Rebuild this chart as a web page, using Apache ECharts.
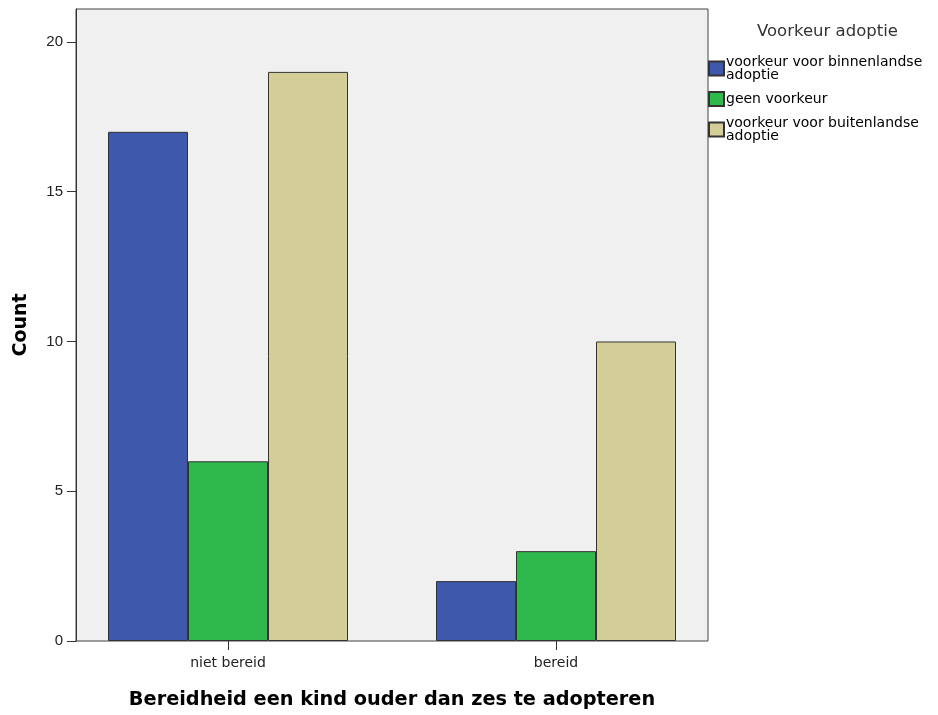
<!DOCTYPE html>
<html><head><meta charset="utf-8">
<script src="https://cdn.jsdelivr.net/npm/echarts@6/dist/echarts.min.js"></script>
<style>html,body{margin:0;padding:0;background:#fff}#c{width:938px;height:715px}</style>
</head><body><div id="c"></div>
<script>
const categories = ['niet bereid', 'bereid'];
const seriesNames = ['voorkeur voor binnenlandse adoptie', 'geen voorkeur', 'voorkeur voor buitenlandse adoptie'];
const binnenlandse = [17, 2];
const geenVoorkeur = [6, 3];
const buitenlandse = [19, 10];
const yTicks = [0, 5, 10, 15, 20];
const colors = ['#3e58ab', '#2fb84b', '#d3ce98'];
const legendLabels = {
  'voorkeur voor binnenlandse adoptie': 'voorkeur voor binnenlandse\nadoptie',
  'geen voorkeur': 'geen voorkeur',
  'voorkeur voor buitenlandse adoptie': 'voorkeur voor buitenlandse\nadoptie'
};
const values = [binnenlandse, geenVoorkeur, buitenlandse];
const FONT = 'Liberation Sans, Arial, sans-serif';
const WIDE = 'DejaVu Sans, Verdana, sans-serif';
const chart = echarts.init(document.getElementById('c'));
chart.setOption({
  animation: false,
  backgroundColor: '#ffffff',
  title: {
    text: 'Voorkeur adoptie', left: 752, top: 18,
    textStyle: {fontFamily: WIDE, fontSize: 16.5, fontWeight: 'normal', color: '#333'}
  },
  legend: {
    orient: 'vertical', left: 708, top: 55, padding: 0, itemWidth: 15, itemHeight: 14, itemGap: 9,
    icon: 'rect',
    data: seriesNames,
    formatter: n => legendLabels[n],
    textStyle: {fontFamily: WIDE, fontSize: 14, lineHeight: 13, color: '#000', padding: [0, 0, 0, -3]}
  },
  grid: [
    {left: 76, right: 230, top: 9, bottom: 74, show: true, backgroundColor: '#f0f0f0', borderColor: '#444', borderWidth: 1, z: 0},
    {left: 64, right: 218, top: 9, bottom: 74, show: false}
  ],
  xAxis: [
    {gridIndex: 0, type: 'value', show: false},
    {gridIndex: 1, type: 'category', data: categories,
     axisLine: {show: false},
     axisTick: {show: true, alignWithLabel: true, length: 9, lineStyle: {color: '#333'}},
     axisLabel: {fontFamily: WIDE, fontSize: 14, color: '#222', margin: 15},
     name: 'Bereidheid een kind ouder dan zes te adopteren', nameLocation: 'middle', nameGap: 49,
     nameTextStyle: {fontFamily: WIDE, fontSize: 19.3, fontWeight: 'bold', color: '#000'}
    }
  ],
  yAxis: [
    {gridIndex: 0, type: 'value', min: 0, max: 21.1, interval: 5,
     axisLine: {show: true, lineStyle: {color: '#333'}},
     axisTick: {show: true, length: 9, customValues: yTicks, lineStyle: {color: '#333'}},
     axisLabel: {fontFamily: FONT, fontSize: 15, color: '#222', margin: 13, customValues: yTicks},
     splitLine: {show: false},
     name: 'Count', nameLocation: 'middle', nameGap: 45, nameRotate: 90,
     nameTextStyle: {fontFamily: WIDE, fontSize: 19, fontWeight: 'bold', color: '#000'}
    },
    {gridIndex: 1, type: 'value', min: 0, max: 21.1, show: false}
  ],
  series: values.map((v, i) => ({
    name: seriesNames[i], type: 'bar', xAxisIndex: 1, yAxisIndex: 1,
    data: v, barWidth: 80, barGap: '0%',
    itemStyle: {color: colors[i], borderColor: '#333', borderWidth: 1}
  }))
});
</script></body></html>
